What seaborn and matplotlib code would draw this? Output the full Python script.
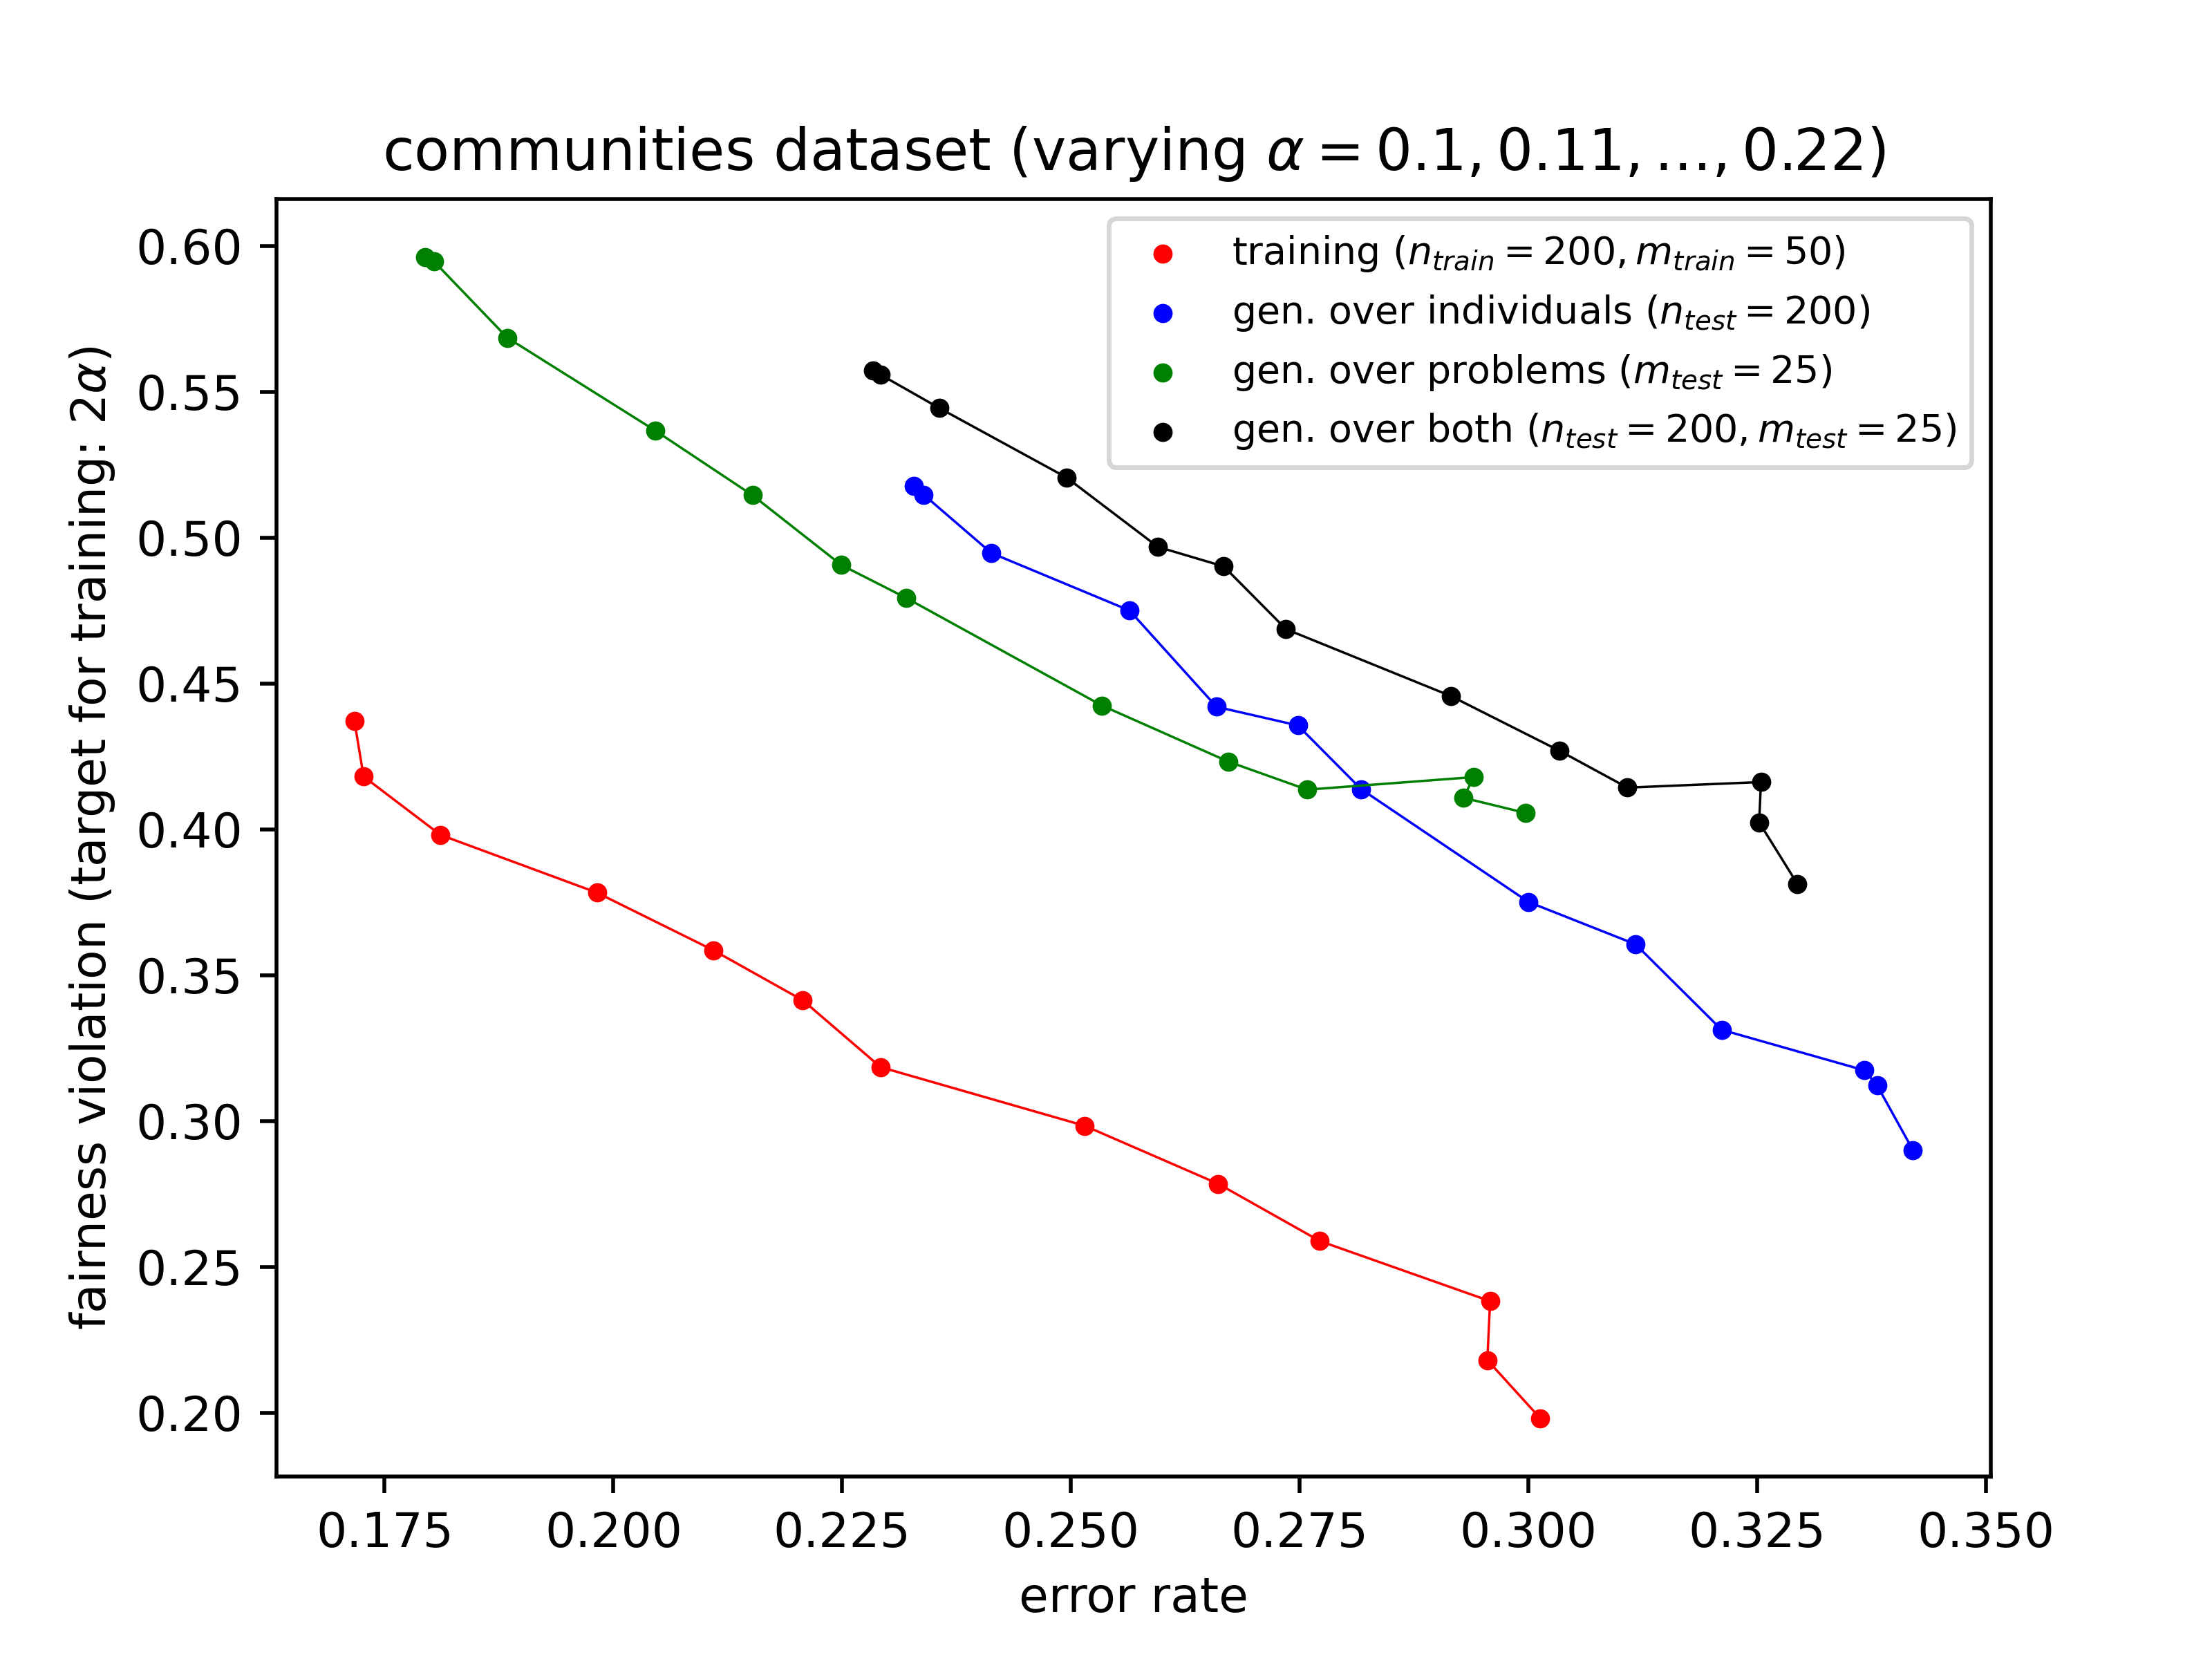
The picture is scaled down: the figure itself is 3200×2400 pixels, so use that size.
import matplotlib
matplotlib.use("Agg")
import matplotlib.pyplot as plt
import seaborn as sns

# error rate / fairness violation for alpha = 0.1, 0.11, ..., 0.22
train_err = [0.1717, 0.1727, 0.1811, 0.1982, 0.2109, 0.2207, 0.2292,
             0.2515, 0.2661, 0.2772, 0.2958, 0.2955, 0.3013]
train_fv = [0.4372, 0.4181, 0.3981, 0.3783, 0.3586, 0.3414, 0.3185,
            0.2984, 0.2785, 0.2589, 0.2383, 0.2181, 0.1981]

indiv_err = [0.2328, 0.2339, 0.2413, 0.2564, 0.2659, 0.2748, 0.2817,
             0.3000, 0.3117, 0.3211, 0.3367, 0.3381, 0.3420]
indiv_fv = [0.5177, 0.5147, 0.4947, 0.4750, 0.4420, 0.4356, 0.4138,
            0.3751, 0.3606, 0.3313, 0.3174, 0.3122, 0.2901]

prob_err = [0.1794, 0.1804, 0.1884, 0.2046, 0.2152, 0.2249, 0.2320,
            0.2534, 0.2672, 0.2758, 0.2940, 0.2929, 0.2997]
prob_fv = [0.5961, 0.5946, 0.5685, 0.5366, 0.5145, 0.4906, 0.4793,
           0.4424, 0.4232, 0.4136, 0.4179, 0.4108, 0.4056]

both_err = [0.2284, 0.2292, 0.2356, 0.2495, 0.2595, 0.2667, 0.2735,
            0.2915, 0.3034, 0.3108, 0.3254, 0.3252, 0.3294]
both_fv = [0.5573, 0.5558, 0.5444, 0.5206, 0.4968, 0.4901, 0.4686,
           0.4457, 0.4269, 0.4143, 0.4162, 0.4024, 0.3812]

series = [
    (train_err, train_fv, "red", r"training ($n_{train} = 200, m_{train} = 50$)"),
    (indiv_err, indiv_fv, "blue", r"gen. over individuals ($n_{test} = 200$)"),
    (prob_err, prob_fv, "green", r"gen. over problems ($m_{test} = 25$)"),
    (both_err, both_fv, "black", r"gen. over both ($n_{test} = 200, m_{test} = 25$)"),
]

fig, ax = plt.subplots(figsize=(6.4, 4.8))

for err, fv, col, lab in series:
    sns.scatterplot(x=err, y=fv, color=col, s=16, linewidth=0, label=lab, ax=ax)
    sns.lineplot(x=err, y=fv, color=col, linewidth=0.5, sort=False,
                 estimator=None, ax=ax)

ax.set_title(r"communities dataset (varying $\alpha = 0.1, 0.11, \ldots, 0.22$)")
ax.set_xlabel("error rate")
ax.set_ylabel(r"fairness violation (target for training: $2\alpha$)")
ax.legend(loc="upper right", fontsize=8)

plt.savefig("out.png", dpi=500)
